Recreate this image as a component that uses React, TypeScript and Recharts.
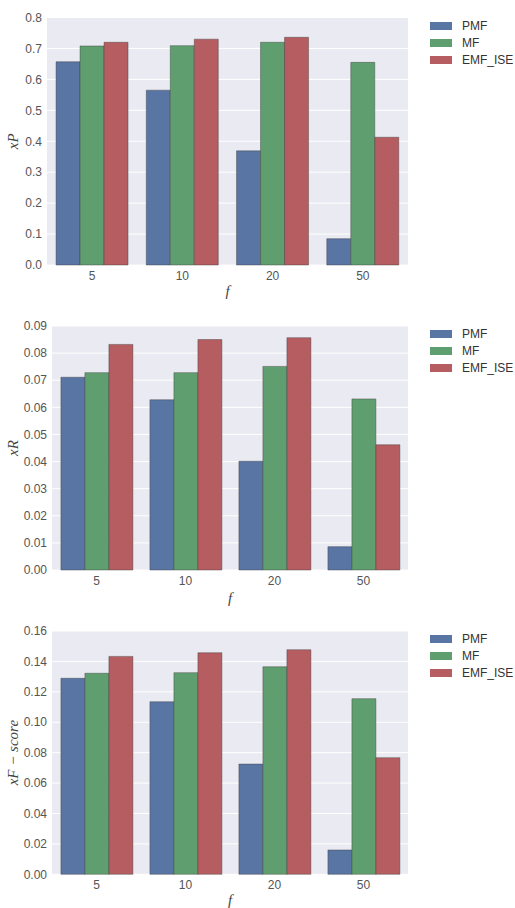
import { BarChart, Bar, XAxis, YAxis, CartesianGrid } from "recharts";

const categories = ["5", "10", "20", "50"];
const seriesNames = ["PMF", "MF", "EMF_ISE"];

// xP panel
const pmfP = [0.657, 0.565, 0.369, 0.085];
const mfP = [0.708, 0.709, 0.72, 0.655];
const emfP = [0.72, 0.73, 0.736, 0.413];
const ticksP = [0, 0.1, 0.2, 0.3, 0.4, 0.5, 0.6, 0.7, 0.8];

// xR panel
const pmfR = [0.0711, 0.0628, 0.0401, 0.0086];
const mfR = [0.0728, 0.0728, 0.0751, 0.0631];
const emfR = [0.0832, 0.085, 0.0857, 0.0462];
const ticksR = [0, 0.01, 0.02, 0.03, 0.04, 0.05, 0.06, 0.07, 0.08, 0.09];

// xF-score panel
const pmfF = [0.1289, 0.1135, 0.0725, 0.016];
const mfF = [0.1322, 0.1326, 0.1365, 0.1155];
const emfF = [0.1433, 0.1457, 0.1477, 0.0767];
const ticksF = [0, 0.02, 0.04, 0.06, 0.08, 0.1, 0.12, 0.14, 0.16];

const colors = ["#5975a4", "#5f9e6e", "#b55d60"];
const tickColor = "#555";
const font = "'Liberation Sans', Arial, sans-serif";
const mathFont = "'Liberation Serif', 'DejaVu Serif', serif";

const buildRows = (a: number[], b: number[], c: number[]) =>
  categories.map((cat, i) => ({ cat, PMF: a[i], MF: b[i], EMF_ISE: c[i] }));

const LegendBox = ({ top }: { top: number }) => (
  <div style={{ position: "absolute", left: 430, top, fontFamily: font, fontSize: 12, color: "#333" }}>
    {seriesNames.map((name, i) => (
      <div key={name} style={{ display: "flex", alignItems: "center", height: 17 }}>
        <div style={{ width: 22, height: 8, background: colors[i], marginRight: 10 }} />
        <span>{name}</span>
      </div>
    ))}
  </div>
);

interface PanelProps {
  top: number;
  height: number;
  plotLeft: number;
  plotTop: number;
  plotBottom: number;
  rows: any[];
  ticks: number[];
  digits: number;
  ylabel: string;
  legendTop: number;
  xlabelGap: number;
}

const Panel = ({
  top,
  height,
  plotLeft,
  plotTop,
  plotBottom,
  rows,
  ticks,
  digits,
  ylabel,
  legendTop,
  xlabelGap,
}: PanelProps) => {
  const axisW = 40;
  const axisH = 30;
  const plotRight = 408;
  return (
    <div style={{ position: "absolute", left: 0, top, width: 515, height }}>
      <BarChart
        width={515}
        height={height}
        data={rows}
        style={{ overflow: "visible" }}
        margin={{
          top: plotTop,
          left: plotLeft - axisW,
          right: 515 - plotRight,
          bottom: height - plotBottom - axisH,
        }}
        barCategoryGap="10%"
        barGap={0}
      >
        <CartesianGrid vertical={false} stroke="#ffffff" strokeWidth={1} fill="#eaeaf2" />
        <XAxis
          dataKey="cat"
          axisLine={false}
          tickLine={false}
          tickSize={0}
          height={axisH}
          tickMargin={6}
          tick={{ fontSize: 12, fill: tickColor, fontFamily: font }}
          label={{
            content: (p: any) => {
              const vb = p.viewBox;
              return (
                <text
                  x={vb.x + vb.width / 2}
                  y={vb.y + xlabelGap}
                  textAnchor="middle"
                  fontFamily={mathFont}
                  fontStyle="italic"
                  fontSize={15}
                  fill="#444"
                >
                  f
                </text>
              );
            },
          }}
        />
        <YAxis
          width={axisW}
          domain={[ticks[0], ticks[ticks.length - 1]]}
          ticks={ticks}
          interval={0}
          axisLine={false}
          tickLine={false}
          tickSize={0}
          tickMargin={5}
          tickFormatter={(v: number) => v.toFixed(digits)}
          tick={{ fontSize: 12, fill: tickColor, fontFamily: font }}
          label={{
            content: (p: any) => {
              const vb = p.viewBox;
              const cy = vb.y + vb.height / 2;
              return (
                <text
                  x={18}
                  y={cy}
                  transform={`rotate(-90, 18, ${cy})`}
                  textAnchor="middle"
                  fontFamily={mathFont}
                  fontStyle="italic"
                  fontSize={15}
                  fill="#444"
                >
                  {ylabel}
                </text>
              );
            },
          }}
        />
        {seriesNames.map((name, i) => (
          <Bar
            key={name}
            dataKey={name}
            fill={colors[i]}
            stroke="#3c3c3c"
            strokeOpacity={0.6}
            strokeWidth={0.7}
            isAnimationActive={false}
          />
        ))}
      </BarChart>
      <LegendBox top={legendTop} />
    </div>
  );
};

export default function App() {
  return (
    <div style={{ position: "absolute", left: 0, top: 0, width: 515, height: 908, background: "#fff" }}>
      <Panel
        top={0}
        height={305}
        plotLeft={47}
        plotTop={17.5}
        plotBottom={265}
        rows={buildRows(pmfP, mfP, emfP)}
        ticks={ticksP}
        digits={1}
        ylabel="xP"
        legendTop={17.5}
        xlabelGap={31}
      />
      <Panel
        top={305}
        height={305}
        plotLeft={52}
        plotTop={21}
        plotBottom={265}
        rows={buildRows(pmfR, mfR, emfR)}
        ticks={ticksR}
        digits={2}
        ylabel="xR"
        legendTop={20.5}
        xlabelGap={33}
      />
      <Panel
        top={610}
        height={298}
        plotLeft={52}
        plotTop={21}
        plotBottom={264.3}
        rows={buildRows(pmfF, mfF, emfF)}
        ticks={ticksF}
        digits={2}
        ylabel="xF − score"
        legendTop={20.5}
        xlabelGap={31}
      />
    </div>
  );
}
